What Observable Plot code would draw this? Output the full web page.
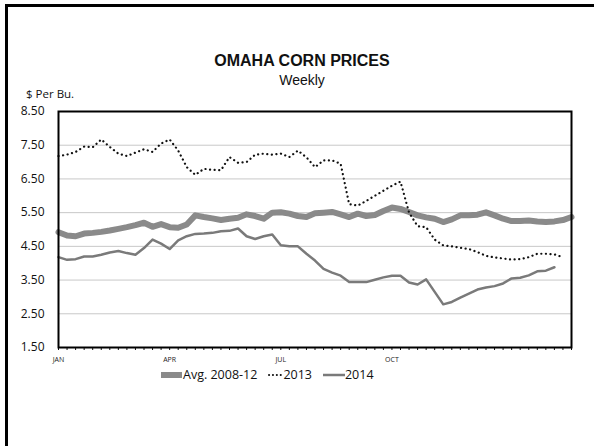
<!DOCTYPE html>
<html>
<head>
<meta charset="utf-8">
<script src="https://cdn.jsdelivr.net/npm/d3@7"></script>
<script src="https://cdn.jsdelivr.net/npm/@observablehq/plot@0.6"></script>
<style>
  html, body { margin: 0; padding: 0; background: #fff; }
  #wrap { position: relative; width: 594px; height: 446px; overflow: hidden; }
  #border { position: absolute; left: 5px; top: 4px; right: -10px; bottom: -10px; border-top: 3px solid #000; border-left: 3px solid #000; }
  .t { position: absolute; white-space: nowrap; color: #111; }
  #title { left: 0; width: 604px; text-align: center; top: 52px; font: bold 16px "Liberation Sans", Arial, sans-serif; }
  #sub { left: 0; width: 604px; text-align: center; top: 72px; font: 14px "Liberation Sans", Arial, sans-serif; }
  #unit { left: 26px; top: 86px; font: 11.5px "Open Sans", sans-serif; }
  #legend { position: absolute; top: 366px; left: 160px; font: 12.5px "Open Sans", sans-serif; color: #111; display: flex; align-items: center; }
  #legend span { margin-right: 11px; }
  #legend svg { display: inline-block; vertical-align: middle; }
  #chart { position: absolute; left: 0; top: 0; }
</style>
</head>
<body>
<div id="wrap">
  <div id="chart"></div>
  <div id="border"></div>
  <div class="t" id="title">OMAHA CORN PRICES</div>
  <div class="t" id="sub">Weekly</div>
  <div class="t" id="unit">$ Per Bu.</div>
  <div id="legend"></div>
</div>
<script>
// Weekly index (0 = first week of January)
const avg0812 = [4.92,4.82,4.80,4.88,4.90,4.93,4.97,5.02,5.07,5.13,5.20,5.08,5.16,5.07,5.05,5.15,5.42,5.37,5.33,5.28,5.32,5.35,5.45,5.40,5.32,5.50,5.51,5.47,5.40,5.37,5.48,5.50,5.52,5.45,5.37,5.47,5.40,5.43,5.55,5.65,5.61,5.52,5.42,5.36,5.32,5.22,5.30,5.42,5.42,5.44,5.51,5.42,5.32,5.25,5.25,5.27,5.24,5.22,5.24,5.28,5.37];
const y2013 = [7.18,7.22,7.30,7.46,7.44,7.67,7.45,7.25,7.18,7.28,7.38,7.30,7.55,7.67,7.34,6.85,6.62,6.80,6.77,6.76,7.15,6.98,7.00,7.22,7.25,7.22,7.25,7.15,7.34,7.14,6.85,7.05,7.05,6.95,5.75,5.71,5.85,6.00,6.15,6.30,6.42,5.50,5.10,5.07,4.70,4.53,4.50,4.46,4.42,4.33,4.22,4.17,4.14,4.11,4.12,4.18,4.28,4.28,4.26,4.18];
const y2014 = [4.18,4.10,4.12,4.20,4.20,4.25,4.32,4.36,4.30,4.25,4.45,4.70,4.58,4.42,4.68,4.80,4.87,4.88,4.90,4.95,4.96,5.03,4.80,4.72,4.80,4.85,4.53,4.50,4.50,4.28,4.08,3.83,3.72,3.63,3.44,3.44,3.44,3.51,3.58,3.63,3.63,3.43,3.37,3.52,3.15,2.78,2.85,2.98,3.10,3.22,3.28,3.32,3.40,3.55,3.57,3.64,3.76,3.78,3.88];
const monthLabels = ["JAN","APR","JUL","OCT"];
const monthWeeks = [0,13,26,39];
const yTicks = [1.5,2.5,3.5,4.5,5.5,6.5,7.5,8.5];
const seriesNames = ["Avg. 2008-12","2013","2014"];

const toRows = (arr) => arr.map((v,i) => ({week:i, price:v}));

const chart = Plot.plot({
  width: 594,
  height: 446,
  marginLeft: 58,
  marginRight: 23,
  marginTop: 111,
  marginBottom: 99,
  style: {background: "transparent", fontFamily: "Open Sans, sans-serif", color: "#111"},
  x: {domain: [0, 60]},
  y: {domain: [1.5, 8.5]},
  marks: [
    Plot.gridY(yTicks.slice(1, -1), {stroke: "#c8c8c8", strokeOpacity: 1, strokeWidth: 1}),
    Plot.axisY(yTicks, {tickSize: 0, tickPadding: 14, tickFormat: d => d.toFixed(2), fontSize: 12, label: null}),
    Plot.axisX(d3.range(0, 61), {tickSize: 3, tickFormat: () => "", label: null, strokeWidth: 1}),
    Plot.text(monthWeeks.map((w,i) => ({w, t: monthLabels[i]})), {x: "w", text: "t", frameAnchor: "bottom", dy: 14, fontSize: 7, fill: "#222"}),
    Plot.line(toRows(avg0812), {x: "week", y: "price", stroke: "#8a8a8a", strokeWidth: 6, strokeLinejoin: "round"}),
    Plot.line(toRows(y2013), {x: "week", y: "price", stroke: "#111", strokeWidth: 2.2, strokeDasharray: "0.1,4.5", strokeLinecap: "round"}),
    Plot.line(toRows(y2014), {x: "week", y: "price", stroke: "#7a7a7a", strokeWidth: 2.5, strokeLinejoin: "round"}),
    Plot.frame({stroke: "#000", strokeWidth: 2})
  ]
});
document.getElementById("chart").appendChild(chart);

const legend = document.getElementById("legend");
const swatches = [
  '<svg width="23" height="8"><line x1="1" y1="4" x2="22" y2="4" stroke="#8a8a8a" stroke-width="6"/></svg>',
  '<svg width="15" height="8"><line x1="1" y1="4" x2="14" y2="4" stroke="#111" stroke-width="2" stroke-dasharray="0.1,3.8" stroke-linecap="round"/></svg>',
  '<svg width="22" height="8"><line x1="0" y1="4" x2="22" y2="4" stroke="#7a7a7a" stroke-width="2.5"/></svg>'
];
legend.innerHTML = seriesNames.map((n,i) => swatches[i] + '<span>' + n + '</span>').join("");
</script>
</body>
</html>
